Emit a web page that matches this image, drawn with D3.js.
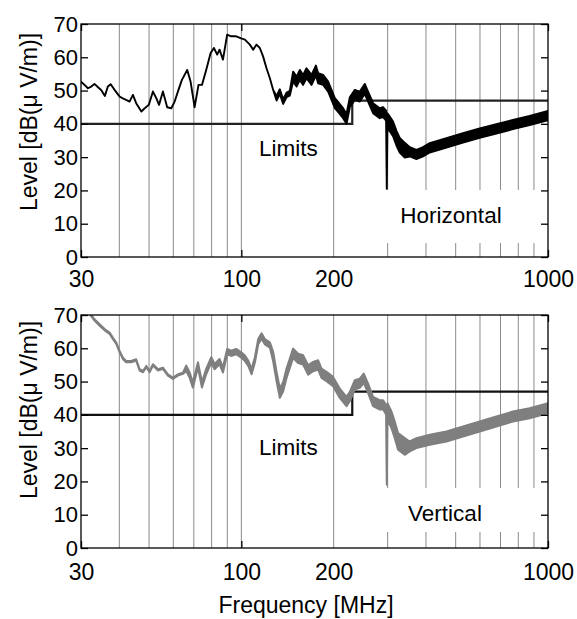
<!DOCTYPE html>
<html>
<head>
<meta charset="utf-8">
<script src="https://cdn.jsdelivr.net/npm/d3@7"></script>
<style>
  body { margin: 0; background: #fff; }
  text { font-family: "Liberation Sans", Arial, sans-serif; fill: #000; }
</style>
</head>
<body>
<script>
// svg size
const width = 577;
const height = 619;

// axis values
const xTickLabels = [30, 100, 200, 1000];
const xMajorTicks = [30, 100, 1000];
const gridFreq = [40, 50, 60, 70, 80, 90, 100, 200, 300, 400, 500, 600, 700, 800, 900];
const yTicks = [0, 10, 20, 30, 40, 50, 60, 70];

// limit line (dB(uV/m))
const limitFreq = [30, 230, 230, 1000];
const limitLevel = [40, 40, 47, 47];

// horizontal polarization, level
const freqH = [30, 30.8, 31.6, 32.4, 33.2, 34.1, 34.9, 35.9, 36.7, 37.5, 38.6, 40.1, 41.6, 43.2, 44.3, 45.4, 47.2, 48.4, 49.9, 51.5,
  52.8, 53.9, 55.5, 57.3, 59.1, 60.6, 62.1, 64.0, 66.6, 68.3, 70.4, 72.5, 74.4, 76.8, 79.4, 81.4, 83.4, 84.9, 87.1, 89.9,
  92.6, 96.2, 99.9, 102.7, 106.6, 109.3, 112.1, 114.9, 117.8, 120.8, 123.9, 127.0, 130.3, 133.5, 136.9, 140.4, 143.9, 147.5, 151.4, 155.2,
  159.0, 163.1, 169.4, 175.0, 178.0, 184.8, 191.9, 196.8, 201.8, 208.4, 214.7, 220.3, 225.8, 234.4, 243.3, 252.6, 259.0, 268.9, 282.8, 289.8,
  296.5, 298, 299.5, 304.8, 312.4, 320.5, 328.5, 341.1, 354.1, 372.3, 391.3, 411.5, 466.4, 528.3, 598.8, 678.6, 768.7, 871.2, 1000];
const levelH = [52.7, 51.7, 50.7, 51.2, 52, 51, 50.2, 48.4, 51.2, 51.9, 50.2, 48.2, 47.4, 46.7, 48.7, 46.2, 43.7, 44.7, 45.7, 49.7,
  47.7, 45.7, 49.7, 45, 44.7, 46.7, 49.7, 53.2, 56.2, 52.7, 45, 51.7, 51.7, 56.2, 61.3, 62.8, 60.8, 62.3, 59.3, 66.8,
  66.3, 66.3, 65.7, 65.3, 63.8, 62.3, 63.8, 62.8, 60.2, 56.7, 53.7, 50.2, 47.7, 49.7, 46.7, 48.7, 49.2, 54.2, 52.7, 54.7,
  53.2, 55.2, 53.2, 56, 53.7, 53.2, 51.2, 48.7, 46.2, 44.7, 43.2, 41.5, 46.5, 48.7, 48.2, 50.5, 48.2, 44.7, 43.2, 43.5,
  42.5, 20.5, 41, 40, 38.5, 35.7, 33.6, 32.1, 31.6, 30.8, 31.6, 32.8, 34.3, 35.8, 37.2, 38.5, 39.8, 41.0, 42.5];
// half width of the noise band (dB) by frequency range
const noiseEdgeH = [128, 145, 297, 299, 345];
const noiseDbH = [0, 0.7, 1.5, 0, 2.2, 1.4];

// vertical polarization
const freqV = [32.3, 33.2, 34.5, 35.9, 37.2, 38.1, 39.1, 40.1, 41.1, 42.1, 43.7, 45.4, 46.6, 47.8, 49.0, 50.2, 51.5, 53.5, 55.5, 57.6,
  59.8, 62.1, 64.5, 66.1, 67.8, 69.5, 72.2, 74.4, 76.8, 79.8, 81.8, 84.9, 87.1, 89.9, 92.6, 96.2, 99.9, 102.7, 105.3, 108.0,
  110.7, 113.5, 116.4, 119.3, 123.9, 127.0, 130.3, 133.5, 136.9, 140.4, 143.9, 147.5, 153.2, 159.0, 165.1, 171.4, 178.0, 182.6, 189.5, 199.1,
  209.4, 220.3, 225.8, 234.4, 243.3, 250.7, 259.0, 268.9, 282.8, 290, 296.5, 298, 299.5, 308.7, 316.5, 324.4, 341.1, 354.1, 372.3, 411.5,
  466.4, 528.3, 598.8, 678.6, 768.7, 871.2, 1000];
const levelV = [70, 68.5, 67, 65.5, 64.5, 63, 61.5, 59, 57, 56, 56, 56.5, 53.5, 53, 54.5, 53, 55, 53.5, 54, 52,
  51, 52, 52.5, 54, 52, 49, 55, 49, 53, 56.5, 54.5, 56, 53.5, 59, 58.5, 59, 58, 57, 55.5, 53,
  56.5, 62, 63.7, 62, 61, 57.5, 51.5, 46.5, 48.5, 52.5, 55.5, 58.5, 57, 56.5, 53.5, 54.5, 55, 52.5, 51.5, 50,
  46.5, 44, 45.5, 49, 49.5, 51, 48, 44, 43, 43, 41.5, 19, 41, 38.5, 35.5, 32, 30.5, 30.5, 31.5, 32.5,
  33.5, 35, 36.5, 38, 39.5, 40.5, 42];
const noiseEdgeV = [66, 125, 297, 299, 345];
const noiseDbV = [0.2, 0.8, 1.4, 0, 2.5, 1.5];

const svg = d3.select('body').append('svg').attr('width', width).attr('height', height);

const x = d3.scaleLog().domain([30, 1000]).range([81, 548]);

const panels = [
  { top: 24, bottom: 257, freq: freqH, level: levelH, edge: noiseEdgeH, noise: noiseDbH,
    color: '#000', lineWidth: 1.9, limitColor: '#222', name: 'Horizontal', nameX: 451, nameY: 223,
    box: [386, 190, 159, 53], limitsY: 156, labelY: 122, tickDy: 14 },
  { top: 315, bottom: 548, freq: freqV, level: levelV, edge: noiseEdgeV, noise: noiseDbV,
    color: '#7f7f7f', lineWidth: 2, limitColor: '#111', name: 'Vertical', nameX: 445, nameY: 521,
    box: [386, 488, 159, 44], limitsY: 455, labelY: 410, tickDy: 16 }
];

panels.forEach(function(p, k) {
  const y = d3.scaleLinear().domain([0, 70]).range([p.bottom, p.top]);
  const g = svg.append('g');

  g.append('clipPath').attr('id', 'clip' + k)
    .append('rect').attr('x', 81).attr('y', p.top).attr('width', 467).attr('height', p.bottom - p.top);

  // grid
  g.selectAll('.grid').data(gridFreq).enter().append('line')
    .attr('x1', function(d){ return x(d); }).attr('x2', function(d){ return x(d); })
    .attr('y1', p.top).attr('y2', p.bottom)
    .attr('stroke', '#8a8a8a').attr('stroke-width', 1);

  // white box behind the polarization label
  g.append('rect').attr('x', p.box[0]).attr('y', p.box[1]).attr('width', p.box[2]).attr('height', p.box[3])
    .attr('fill', '#fff');

  // limits
  const limitData = limitFreq.map(function(f, i){ return [f, limitLevel[i]]; });
  g.append('path').datum(limitData)
    .attr('fill', 'none').attr('stroke', p.limitColor).attr('stroke-width', 2.2)
    .attr('d', d3.line().x(function(d){ return x(d[0]); }).y(function(d){ return y(d[1]); }));

  // measured level with noise band
  const band = d3.scaleThreshold().domain(p.edge).range(p.noise);
  const pts = p.freq.map(function(f, i){ return { f: f, v: p.level[i], n: band(f) }; });
  g.append('path').datum(pts)
    .attr('clip-path', 'url(#clip' + k + ')')
    .attr('fill', p.color).attr('stroke', p.color).attr('stroke-width', p.lineWidth)
    .attr('stroke-linejoin', 'round')
    .attr('d', d3.area()
      .x(function(d){ return x(d.f); })
      .y0(function(d){ return y(d.v - d.n); })
      .y1(function(d){ return y(d.v + d.n); }));

  // texts
  g.append('text').attr('x', 259).attr('y', p.limitsY).attr('font-size', '22.5px').text('Limits');
  g.append('text').attr('x', p.nameX).attr('y', p.nameY).attr('text-anchor', 'middle')
    .attr('font-size', '22.5px').text(p.name);

  // frame
  g.append('rect').attr('x', 81).attr('y', p.top).attr('width', 467).attr('height', p.bottom - p.top)
    .attr('fill', 'none').attr('stroke', '#000').attr('stroke-width', 1.3);

  // y axes
  const yl = g.append('g').attr('transform', 'translate(81,0)')
    .call(d3.axisLeft(y).tickValues(yTicks).tickSize(-7).tickPadding(3));
  yl.select('.domain').remove();
  yl.selectAll('text').attr('font-size', '22px').attr('font-family', '"Liberation Sans", Arial, sans-serif');
  yl.selectAll('line').attr('stroke-width', 1.3);
  const yr = g.append('g').attr('transform', 'translate(548,0)')
    .call(d3.axisRight(y).tickValues(yTicks).tickSize(-7).tickFormat(''));
  yr.select('.domain').remove();
  yr.selectAll('line').attr('stroke-width', 1.3);

  // x axes
  const xb = g.append('g').attr('transform', 'translate(0,' + p.bottom + ')')
    .call(d3.axisBottom(x).tickValues(xTickLabels).tickSize(0).tickPadding(p.tickDy).tickFormat(d3.format('d')));
  xb.select('.domain').remove();
  xb.selectAll('text').attr('font-size', '23px').attr('font-family', '"Liberation Sans", Arial, sans-serif');
  const xt = g.append('g').attr('transform', 'translate(0,' + p.bottom + ')')
    .call(d3.axisBottom(x).tickValues(xMajorTicks).tickSize(-7).tickFormat(''));
  xt.select('.domain').remove();
  xt.selectAll('line').attr('stroke-width', 1.3);
  const xtop = g.append('g').attr('transform', 'translate(0,' + p.top + ')')
    .call(d3.axisTop(x).tickValues(xMajorTicks).tickSize(-7).tickFormat(''));
  xtop.select('.domain').remove();
  xtop.selectAll('line').attr('stroke-width', 1.3);

  // y label
  svg.append('text').attr('transform', 'translate(37,' + p.labelY + ') rotate(-90)')
    .attr('text-anchor', 'middle').attr('font-size', '23px')
    .text('Level [dB(\u03bc V/m)]');
});

svg.append('text').attr('x', 306).attr('y', 613).attr('text-anchor', 'middle')
  .attr('font-size', '23px').text('Frequency [MHz]');
</script>
</body>
</html>
